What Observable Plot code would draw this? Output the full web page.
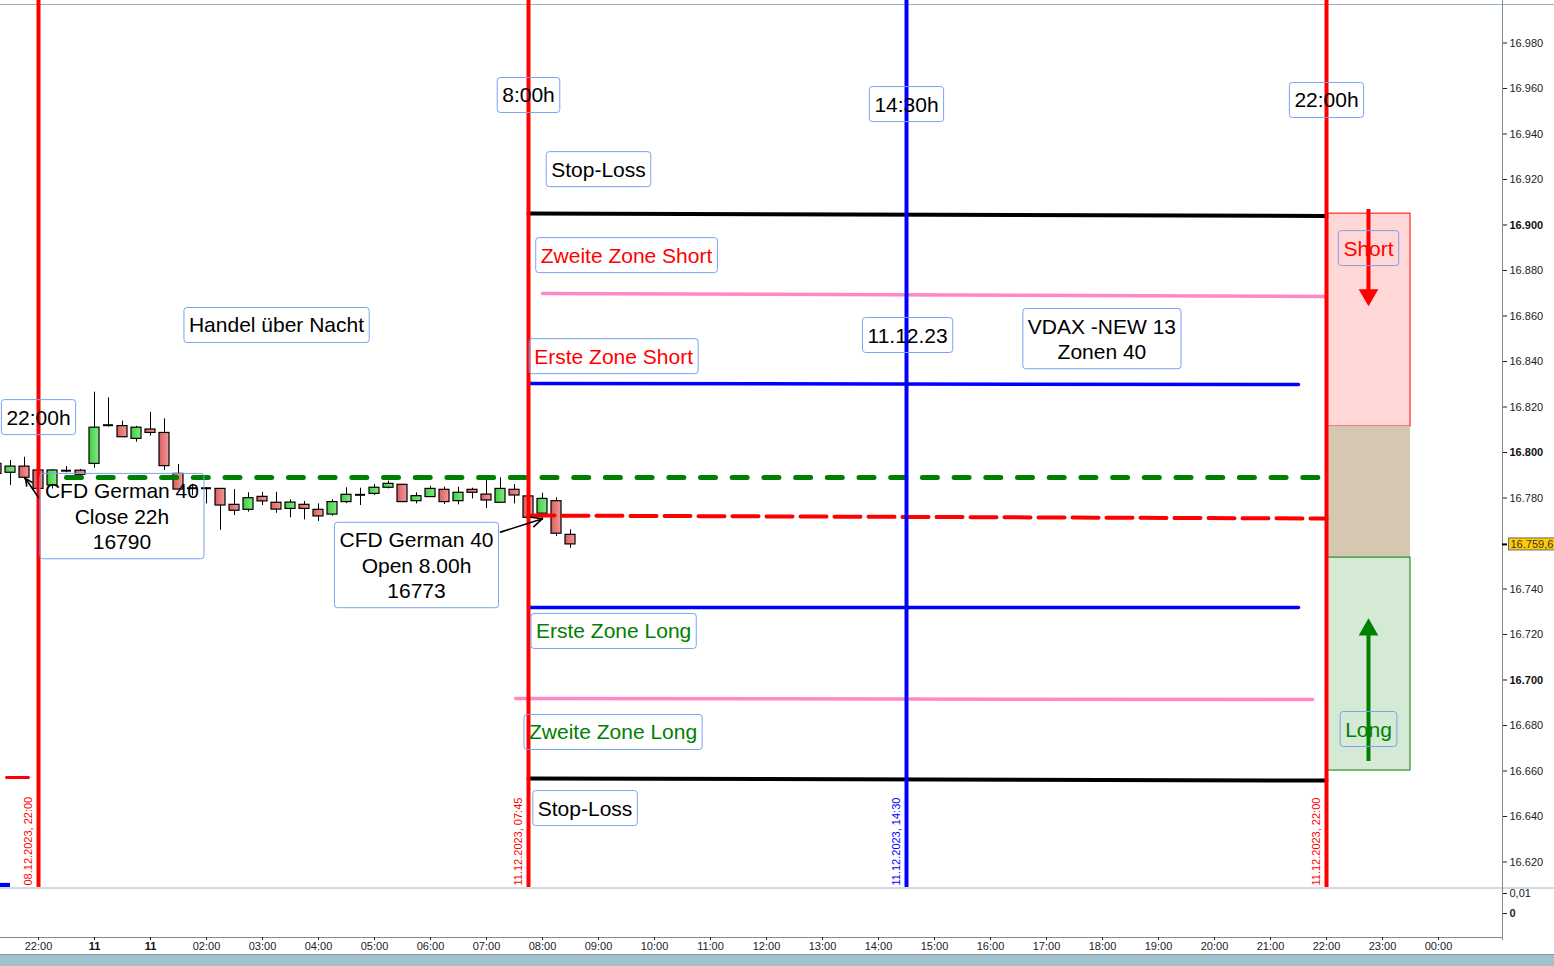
<!DOCTYPE html>
<html><head><meta charset="utf-8">
<script src="https://cdn.jsdelivr.net/npm/d3@7"></script>
<script src="https://cdn.jsdelivr.net/npm/@observablehq/plot@0.6"></script>
<style>
html,body{margin:0;padding:0;background:#fff;}
#chart{position:relative;width:1554px;height:966px;overflow:hidden;background:#fff;}
#chart svg{display:block;position:absolute;left:0;max-width:none;}
#topline{position:absolute;left:0;top:4px;width:1554px;height:1px;background:#9fb0bf;}
#bar{position:absolute;left:0;top:954px;width:1554px;height:12px;background:#a3c0cc;border-top:1px solid #7e9aa6;}
</style></head><body><div id="chart"><div id="topline"></div></div>
<script>
const FONT = "'Liberation Sans', Arial, Helvetica, sans-serif";

// ---- 15-minute candles (time in hours on the compressed axis, 0 = Fri 08.12.2023 22:00) ----
const candleTime = [-0.75,-0.5,-0.25,0,0.25,0.5,0.75,1,1.25,1.5,1.75,2,2.25,2.5,2.75,3,3.25,3.5,3.75,4,4.25,4.5,4.75,5,5.25,5.5,5.75,6,6.25,6.5,6.75,7,7.25,7.5,7.75,8,8.25,8.5,8.75,9,9.25,9.5];
const openP  = [16795.0,16791.1,16793.8,16792.1,16785.5,16792.0,16792.0,16795.0,16812.0,16811.6,16806.0,16810.1,16808.6,16790.6,16784.3,16784.3,16784.0,16777.0,16774.8,16780.5,16777.9,16775.2,16777.0,16774.8,16772.7,16778.2,16781.4,16781.8,16784.5,16785.8,16778.6,16780.4,16783.6,16778.6,16783.6,16781.5,16777.9,16783.6,16780.7,16773.1,16778.6,16763.8];
const highP  = [16797.0,16796.5,16797.9,16792.5,16792.5,16793.8,16792.5,16826.5,16824.0,16813.8,16811.5,16817.7,16814.8,16794.7,16786.0,16784.6,16784.0,16783.7,16782.3,16782.5,16782.5,16779.2,16778.5,16777.4,16779.2,16784.5,16784.3,16785.9,16787.4,16785.8,16782.3,16785.1,16784.8,16784.7,16784.3,16787.7,16788.9,16785.9,16781.0,16782.1,16780.1,16766.0];
const lowP   = [16789.0,16785.5,16788.0,16783.5,16784.0,16791.1,16790.0,16793.1,16811.1,16806.7,16804.5,16807.2,16792.1,16783.7,16781.0,16777.4,16765.8,16772.3,16773.8,16776.7,16773.3,16771.3,16770.4,16769.7,16772.0,16777.5,16776.7,16781.1,16784.0,16778.2,16777.4,16780.4,16777.1,16777.0,16779.6,16775.3,16777.9,16777.4,16771.3,16770.1,16763.1,16757.9];
const closeP = [16790.6,16793.8,16788.9,16784.0,16792.1,16792.0,16790.2,16810.9,16812.0,16806.7,16810.9,16808.6,16794.0,16783.7,16784.3,16784.3,16776.7,16774.4,16779.9,16778.5,16774.9,16778.0,16775.2,16771.9,16778.2,16781.4,16781.4,16784.5,16786.2,16778.2,16780.8,16784.0,16778.2,16782.3,16782.3,16778.9,16784.0,16781.1,16771.3,16779.6,16764.3,16759.6];

// ---- x axis tick labels (hour slots) ----
const xTickPos = [0,1,2,3,4,5,6,7,8,9,10,11,12,13,14,15,16,17,18,19,20,21,22,23,24,25];
const xTickLabels = ["22:00","11","11","02:00","03:00","04:00","05:00","06:00","07:00","08:00","09:00","10:00","11:00","12:00","13:00","14:00","15:00","16:00","17:00","18:00","19:00","20:00","21:00","22:00","23:00","00:00"];
const xBoldPos = [1,2];

// ---- y axis ticks (16.760 is hidden behind the last-price tag) ----
const yTicks = [16620,16640,16660,16680,16700,16720,16740,16780,16800,16820,16840,16860,16880,16900,16920,16940,16960,16980];
const yBold = [16700,16800,16900];

// ---- session markers ----
const sessionTimes  = [0, 8.75, 15.5, 23];
const sessionLabels = ["08.12.2023, 22:00","11.12.2023, 07:45","11.12.2023, 14:30","11.12.2023, 22:00"];
const sessionKinds  = ["close","open","us","close"];

// ---- zone levels [time, price] ----
const stopLossShort = [[8.75,16905.0],[23,16904.0]];
const zweiteShort   = [[9.0,16869.9],[23,16868.6]];
const ersteShort    = [[8.75,16830.3],[22.5,16829.9]];
const close22Level  = [[0.5,16789.0],[23.07,16789.0]];
const open8Level    = [[8.75,16772.3],[23,16771.0]];
const ersteLong     = [[8.75,16731.9],[22.5,16731.9]];
const zweiteLong    = [[8.52,16691.9],[22.75,16691.4]];
const stopLossLong  = [[8.75,16656.7],[23,16655.8]];
const leftMark      = [[-0.571,16657.1],[-0.179,16657.1]];

// ---- right side zone boxes ----
const zoneNames  = ["short","neutral","long"];
const zoneTop    = [16905.0,16811.4,16753.8];
const zoneBottom = [16811.4,16753.8,16660.2];
const zoneFrom = 23, zoneTo = 24.5;

// ---- arrows ----
const directionArrows = [{dir:"short", t:23.75, from:16906.8, to:16869.3},{dir:"long", t:23.75, from:16664.2, to:16722.1}];
const pointerArrows = [{t1:0, p1:16780.2, t2:-0.232, p2:16788.6},{t1:8.25, p1:16765.0, t2:9.0, p2:16770.9}];

// ---- annotations ----
const boxLabels = [
 {text:"8:00h", t:8.75, p:16957.4, tone:"neutral"},
 {text:"14:30h", t:15.5, p:16953.4, tone:"neutral"},
 {text:"22:00h", t:23, p:16955.2, tone:"neutral"},
 {text:"Stop-Loss", t:10.0, p:16924.8, tone:"neutral"},
 {text:"Zweite Zone Short", t:10.5, p:16887.0, tone:"short"},
 {text:"Handel über Nacht", t:4.25, p:16856.3, tone:"neutral"},
 {text:"Erste Zone Short", t:10.27, p:16842.6, tone:"short"},
 {text:"11.12.23", t:15.52, p:16851.9, tone:"neutral"},
 {text:"VDAX -NEW 13\nZonen 40", t:18.99, p:16850.3, tone:"neutral"},
 {text:"22:00h", t:0, p:16815.8, tone:"neutral"},
 {text:"CFD German 40\nClose 22h\n16790", t:1.49, p:16772.3, tone:"neutral"},
 {text:"CFD German 40\nOpen 8.00h\n16773", t:6.75, p:16750.8, tone:"neutral"},
 {text:"Erste Zone Long", t:10.27, p:16721.8, tone:"long"},
 {text:"Zweite Zone Long", t:10.26, p:16677.4, tone:"long"},
 {text:"Stop-Loss", t:9.76, p:16643.96, tone:"neutral"},
 {text:"Short", t:23.75, p:16890.1, tone:"short"},
 {text:"Long", t:23.75, p:16678.7, tone:"long"}
];

// ---------- build ----------
const candles = candleTime.map((t,i)=>({t, o:openP[i], h:highP[i], l:lowP[i], c:closeP[i]}));
const sessions = sessionTimes.map((t,i)=>({t, label:sessionLabels[i], kind:sessionKinds[i]}));
const zones = zoneNames.map((n,i)=>({name:n, top:zoneTop[i], bottom:zoneBottom[i]}));
const lastClose = closeP[closeP.length-1];

const de = d3.formatLocale({decimal:",", thousands:".", grouping:[3], currency:["","€"]});
const fmtPrice = de.format(",.0f");
const fmtLast = de.format(",.1f");

const PX_PER_H = 56;
const X0 = -38/PX_PER_H, X1 = 1464/PX_PER_H, XR = X1 + 52/PX_PER_H;
const HW = 5/PX_PER_H;
const sessionColor = {close:"#ff0000", open:"#ff0000", us:"#0000ff"};
const zoneFill = {short:"#ffd7d7", neutral:"#d4c8b2", long:"#d5ead5"};
const zoneStroke = {short:"#ff0000", neutral:"none", long:"#008000"};
const toneColor = {neutral:"#000000", short:"#ff0000", long:"#008000"};
const isDoji = d => Math.abs(d.c - d.o) < 0.3;

const gradDefs = () => {
  const ns = "http://www.w3.org/2000/svg";
  const defs = document.createElementNS(ns, "defs");
  defs.innerHTML = `
   <linearGradient id="gUp" x1="0" x2="1" y1="0" y2="0"><stop offset="0" stop-color="#3fcf3f"/><stop offset="1" stop-color="#86e886"/></linearGradient>
   <linearGradient id="gDown" x1="0" x2="1" y1="0" y2="0"><stop offset="0" stop-color="#dc5e5e"/><stop offset="1" stop-color="#f29a9a"/></linearGradient>`;
  return defs;
};

const lineMark = (pts, opts) => Plot.line(pts, {x: d=>d[0], y: d=>d[1], ...opts});

const main = Plot.plot({
  width:1554, height:887, marginLeft:0, marginRight:52, marginTop:0, marginBottom:0,
  x:{domain:[X0, X1], axis:null},
  y:{domain:[16608.79, 16998.68], axis:null},
  color:{type:"identity"},
  style:{fontFamily:FONT, fontSize:"11px", background:"transparent", color:"#222"},
  marks:[
    gradDefs,
    Plot.rect(zones, {x1:()=>zoneFrom, x2:()=>zoneTo, y1:"bottom", y2:"top", fill:d=>zoneFill[d.name], stroke:d=>zoneStroke[d.name], strokeWidth:1}),
    lineMark(zweiteShort, {stroke:"#ff88c4", strokeWidth:3.5}),
    lineMark(zweiteLong, {stroke:"#ff88c4", strokeWidth:3.5}),
    lineMark(ersteShort, {stroke:"#0000ff", strokeWidth:3.5}),
    lineMark(ersteLong, {stroke:"#0000ff", strokeWidth:3.5}),
    lineMark(stopLossShort, {stroke:"#000", strokeWidth:4}),
    lineMark(stopLossLong, {stroke:"#000", strokeWidth:4}),
    lineMark(leftMark, {stroke:"#ff0000", strokeWidth:3}),
    Plot.rect([1], {x1:X0, x2:X0+10/PX_PER_H, y1:16608.79, y2:16610.6, fill:"#0000ff"}),
    Plot.ruleX(candles, {x:"t", y1:"l", y2:"h", stroke:"#000", strokeWidth:1}),
    Plot.rect(candles.filter(d=>!isDoji(d) && d.c>d.o), {x1:d=>d.t-HW, x2:d=>d.t+HW, y1:"o", y2:"c", fill:"url(#gUp)", stroke:"#000", strokeWidth:1.2}),
    Plot.rect(candles.filter(d=>!isDoji(d) && d.c<d.o), {x1:d=>d.t-HW, x2:d=>d.t+HW, y1:"o", y2:"c", fill:"url(#gDown)", stroke:"#000", strokeWidth:1.2}),
    Plot.ruleY(candles.filter(isDoji), {y:"c", x1:d=>d.t-HW, x2:d=>d.t+HW, stroke:"#000", strokeWidth:2}),
    lineMark(close22Level, {stroke:"#008000", strokeWidth:5, strokeDasharray:"15,16.7"}),
    lineMark(open8Level, {stroke:"#ff0000", strokeWidth:4, strokeDasharray:"26,8"}),
    Plot.ruleX(sessions, {x:"t", stroke:d=>sessionColor[d.kind], strokeWidth:4}),
    Plot.text(sessions, {x:"t", text:"label", frameAnchor:"bottom", dy:-2, dx:-7, rotate:-90, textAnchor:"start", fontSize:11, fill:d=>sessionColor[d.kind]}),
    Plot.ruleX(directionArrows, {x:"t", y1:"from", y2:"to", stroke:d=>d.dir==="short"?"#ff0000":"#008000", strokeWidth:4}),
    Plot.dot(directionArrows, {x:"t", y:"to", symbol:"triangle", r:7.3, fill:d=>d.dir==="short"?"#ff0000":"#008000", stroke:"none", rotate:d=>d.dir==="short"?180:0}),
    Plot.arrow(pointerArrows, {x1:"t1", y1:"p1", x2:"t2", y2:"p2", stroke:"#000", strokeWidth:1.6, headLength:11, headAngle:50}),
    ...["neutral","short","long"].map(tone => Plot.text(boxLabels.filter(d=>d.tone===tone), {x:"t", y:"p", text:"text", fill:toneColor[tone], fontSize:21, lineHeight:1.2})),
    Plot.ruleX([X1], {stroke:"#7d8c98", strokeWidth:1}),
    Plot.axisY(yTicks.filter(v=>!yBold.includes(v)), {anchor:"right", tickSize:4, tickPadding:3, tickFormat:fmtPrice, fontSize:11, label:null, color:"#222"}),
    Plot.axisY(yBold, {anchor:"right", tickSize:4, tickPadding:3, tickFormat:fmtPrice, fontSize:11, fontWeight:"bold", label:null, color:"#111"}),
    Plot.ruleY([lastClose], {x1:X1, x2:X1+5/PX_PER_H, stroke:"#000", strokeWidth:2}),
    Plot.text([lastClose], {y:d=>d, frameAnchor:"right", textAnchor:"start", dx:8, fontSize:11, text:d=>fmtLast(d), fill:"#333"})
  ]
});
main.style.top = "0px";

const sub = Plot.plot({
  width:1554, height:79, marginLeft:0, marginRight:52, marginTop:0, marginBottom:29,
  x:{domain:[X0, X1], axis:null},
  y:{domain:[-0.012, 0.013], axis:null},
  style:{fontFamily:FONT, fontSize:"11px", background:"transparent", color:"#222"},
  marks:[
    Plot.ruleY([0.013], {x1:X0, x2:XR, stroke:"#a9b4bc", dy:0.5}),
    Plot.ruleY([-0.012], {x1:X0, x2:X1, stroke:"#7d8c98"}),
    Plot.ruleX([X1], {y1:0.013, y2:-0.0135, stroke:"#7d8c98"}),
    Plot.axisY([0.01], {anchor:"right", tickSize:4, tickPadding:3, tickFormat:de.format(",.2f"), fontSize:11, label:null}),
    Plot.axisY([0], {anchor:"right", tickSize:4, tickPadding:3, tickFormat:de.format(",.0f"), fontSize:11, fontWeight:"bold", label:null}),
    Plot.axisX(xTickPos.filter(v=>!xBoldPos.includes(v)), {anchor:"bottom", tickSize:3, tickPadding:2, tickFormat:i=>xTickLabels[i], fontSize:11, label:null, color:"#222"}),
    Plot.axisX(xBoldPos, {anchor:"bottom", tickSize:3, tickPadding:2, tickFormat:i=>xTickLabels[i], fontSize:11, fontWeight:"bold", label:null, color:"#111"})
  ]
});
sub.style.top = "887px";

const chart = document.getElementById("chart");
chart.appendChild(main);
chart.appendChild(sub);
const bar = document.createElement("div"); bar.id = "bar"; chart.appendChild(bar);

function addBoxes(svg, wanted, padX, padY, fill, stroke, rx) {
  const ns = "http://www.w3.org/2000/svg";
  Array.from(svg.querySelectorAll("text")).forEach(t => {
    if (!wanted.has(t.textContent)) return;
    const b = t.getBBox();
    const r = document.createElementNS(ns, "rect");
    r.setAttribute("x", b.x - padX);
    r.setAttribute("y", b.y - padY);
    r.setAttribute("width", b.width + 2*padX);
    r.setAttribute("height", b.height + 2*padY);
    r.setAttribute("rx", rx);
    r.setAttribute("fill", fill);
    r.setAttribute("stroke", stroke);
    r.setAttribute("stroke-width", 1);
    const tr = t.getAttribute("transform"); if (tr) r.setAttribute("transform", tr);
    t.parentNode.insertBefore(r, t);
  });
}
addBoxes(main, new Set(boxLabels.map(d=>d.text.replace(/\n/g,""))), 5, 6, "none", "#7aa2f0", 3);
addBoxes(main, new Set([fmtLast(lastClose)]), 2, 0, "#ffcc00", "#6b6b6b", 0);
</script></body></html>
